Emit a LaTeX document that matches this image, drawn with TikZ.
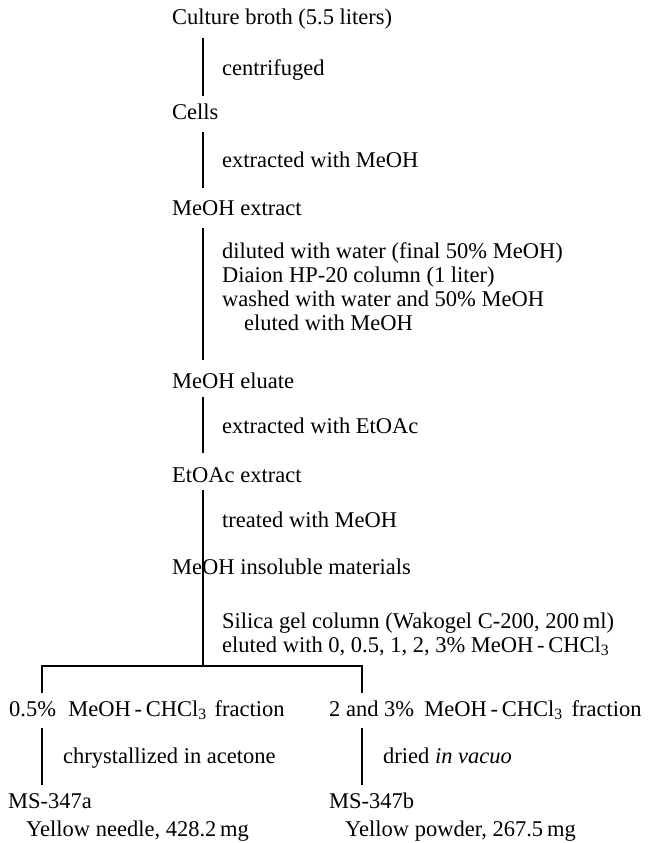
\documentclass[tikz,border=0pt]{standalone}
\usepackage{fontspec}
\setmainfont{Liberation Serif}
\newcommand{\mcl}{MeOH\,-\,CHCl\textsubscript{3}}
\begin{document}
\begin{tikzpicture}[x=1pt,y=-1pt,
  txt/.style={anchor=base west,inner sep=0pt,font=\fontsize{22.5}{24}\selectfont},
  flow/.style={line width=1.3pt,black}]
\useasboundingbox (0,0) rectangle (648,843);
% main column
\node[txt] (n1) at (172,25) {Culture broth (5.5 liters)};
\node[txt] (s1) at (222,75) {centrifuged};
\node[txt] (n2) at (172,119) {Cells};
\node[txt] (s2) at (222,167) {extracted with MeOH};
\node[txt] (n3) at (172,215) {MeOH extract};
\node[txt] (s3a) at (222,258) {diluted with water (final 50\% MeOH)};
\node[txt] (s3b) at (222,282) {Diaion HP-20 column (1 liter)};
\node[txt] (s3c) at (222,306) {washed with water and 50\% MeOH};
\node[txt] (s3d) at (244,330) {eluted with MeOH};
\node[txt] (n4) at (172,388) {MeOH eluate};
\node[txt] (s4) at (222,433) {extracted with EtOAc};
\node[txt] (n5) at (172,482) {EtOAc extract};
\node[txt] (s5) at (222,527) {treated with MeOH};
\node[txt] (n6) at (172,574) {MeOH insoluble materials};
\node[txt] (s6a) at (222,628) {Silica gel column (Wakogel C-200, 200\,ml)};
\node[txt] (s6b) at (222,652) {eluted with 0, 0.5, 1, 2, 3\% \mcl};
% branches
\node[txt] (fa) at (9,716) {0.5\%\hspace{0.3em} \mcl\hspace{0.1em} fraction};
\node[txt] (fb) at (329,716) {2 and 3\%\hspace{0.2em} \mcl\hspace{0.15em} fraction};
\node[txt] (ta) at (63,763) {chrystallized in acetone};
\node[txt] (tb) at (383,763) {dried \textit{in vacuo}};
\node[txt] (ma) at (8,808) {MS-347a};
\node[txt] (mb) at (329,808) {MS-347b};
\node[txt] (ya) at (26,836) {Yellow needle, 428.2\,mg};
\node[txt] (yb) at (345,836) {Yellow powder, 267.5\,mg};
% connectors
\coordinate (c1t) at (203,38); \coordinate (c1b) at (203,96);
\coordinate (c2t) at (203,132); \coordinate (c2b) at (203,188);
\coordinate (c3t) at (203,228); \coordinate (c3b) at (203,360);
\coordinate (c4t) at (203,397); \coordinate (c4b) at (203,453);
\coordinate (c5t) at (203,490); \coordinate (br) at (203,666);
\coordinate (bl) at (42,666); \coordinate (brr) at (362,666);
\coordinate (la) at (42,693); \coordinate (lb) at (362,693);
\coordinate (la2) at (42,728); \coordinate (la3) at (42,785);
\coordinate (lb2) at (362,728); \coordinate (lb3) at (362,785);
\draw[flow] (c1t) -- (c1b);
\draw[flow] (c2t) -- (c2b);
\draw[flow] (c3t) -- (c3b);
\draw[flow] (c4t) -- (c4b);
\draw[flow] (c5t) -- (br);
\draw[flow] (la) -- (bl) -- (brr) -- (lb);
\draw[flow] (la2) -- (la3);
\draw[flow] (lb2) -- (lb3);
\end{tikzpicture}
\end{document}
